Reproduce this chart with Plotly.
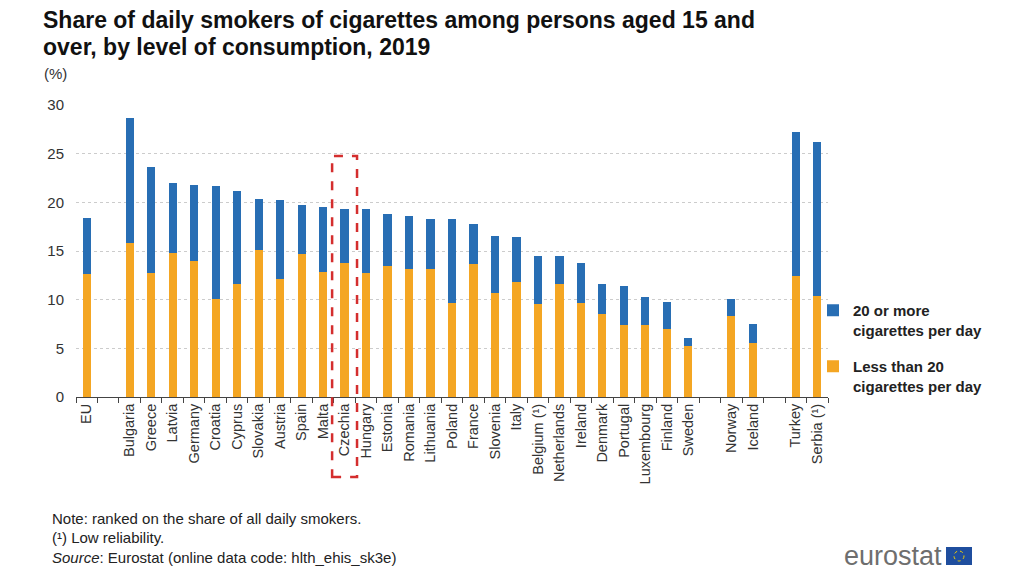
import plotly.graph_objects as go

countries = ["EU", " ", "Bulgaria", "Greece", "Latvia", "Germany", "Croatia", "Cyprus",
             "Slovakia", "Austria", "Spain", "Malta", "Czechia", "Hungary", "Estonia",
             "Romania", "Lithuania", "Poland", "France", "Slovenia", "Italy", "Belgium (¹)",
             "Netherlands", "Ireland", "Denmark", "Portugal", "Luxembourg", "Finland",
             "Sweden", "  ", "Norway", "Iceland", "   ", "Turkey", "Serbia (¹)"]

less_than_20 = [12.6, None, 15.8, 12.7, 14.8, 14.0, 10.1, 11.6, 15.1, 12.1, 14.7, 12.8,
                13.8, 12.7, 13.5, 13.2, 13.1, 9.7, 13.7, 10.7, 11.8, 9.6, 11.6, 9.7, 8.5,
                7.4, 7.4, 7.0, 5.2, None, 8.3, 5.5, None, 12.4, 10.4]

twenty_or_more = [5.8, None, 12.9, 10.9, 7.2, 7.8, 11.6, 9.6, 5.2, 8.1, 5.0, 6.7,
                  5.5, 6.6, 5.3, 5.4, 5.2, 8.6, 4.1, 5.8, 4.6, 4.9, 2.9, 4.1, 3.1,
                  4.0, 2.9, 2.8, 0.9, None, 1.8, 2.0, None, 14.8, 15.8]

highlight = "Czechia"

title_lines = ["Share of daily smokers of cigarettes among persons aged 15 and",
               "over, by level of consumption, 2019"]
footer = ["Note: ranked on the share of all daily smokers.",
          "(¹) Low reliability.",
          "<i>Source</i>: Eurostat (online data code: hlth_ehis_sk3e)"]

BLUE = "#286EB4"
ORANGE = "#F4A623"
FONT = "Liberation Sans, Arial, sans-serif"

fig = go.Figure()
fig.add_trace(go.Bar(x=countries, y=less_than_20, name="Less than 20<br>cigarettes per day",
                     marker=dict(color=ORANGE, line=dict(width=0)),
                     legendgroup="a", legendrank=2))
fig.add_trace(go.Bar(x=countries, y=twenty_or_more, name="20 or more<br>cigarettes per day",
                     marker=dict(color=BLUE, line=dict(width=0)),
                     legendgroup="b", legendrank=1))

# page is offset by 8px body margin; work in figure coordinates
W, H = 1016, 568
L, R, T, B = 68, 820, 97, 389
n = len(countries)


def px(xp):
    return (xp - L) / (R - L)


def py(yp):
    return (B - yp) / (B - T)


fig.update_layout(
    width=W, height=H,
    barmode="stack", bargap=0.62,
    paper_bgcolor="white", plot_bgcolor="white",
    margin=dict(l=L, r=W - R, t=T, b=H - B, autoexpand=False),
    font=dict(family=FONT, size=15, color="#333333"),
    showlegend=True,
    legend=dict(x=px(805), y=py(286), xanchor="left", yanchor="top",
                traceorder="grouped", tracegroupgap=14, valign="top",
                font=dict(family=FONT, size=15, color="#222222", weight="bold"),
                bgcolor="rgba(0,0,0,0)"),
    xaxis=dict(type="category", tickangle=-90, ticks="outside", tickson="boundaries",
               ticklen=5, tickcolor="#444444", showline=True, linecolor="#444444",
               linewidth=1, showgrid=False, tickfont=dict(size=14.5, color="#333333"),
               range=[-0.5, n - 0.5]),
    yaxis=dict(range=[0, 30], dtick=5, showgrid=True, gridcolor="#CCCCCC",
               griddash="dot", gridwidth=1, zeroline=False, showline=False,
               tickfont=dict(size=15, color="#333333"), ticks="", ticklabelstandoff=11),
)

for i, t in enumerate(title_lines):
    fig.add_annotation(text="<b>" + t + "</b>", xref="paper", yref="paper",
                       x=px(33), y=py(12 + 27 * i), xanchor="left", yanchor="middle",
                       showarrow=False, font=dict(family=FONT, size=23, color="#111111"))
fig.add_annotation(text="(%)", xref="paper", yref="paper",
                   x=px(34), y=py(65), xanchor="left", yanchor="middle",
                   showarrow=False, font=dict(family=FONT, size=15, color="#333333"))

for i, t in enumerate(footer):
    fig.add_annotation(text=t, xref="paper", yref="paper",
                       x=px(42), y=py(510 + 19.5 * i),
                       xanchor="left", yanchor="middle", showarrow=False,
                       font=dict(family=FONT, size=15, color="#222222"))

# highlight box around Czechia
idx = countries.index(highlight)
fig.add_shape(type="rect", xref="paper", yref="paper",
              x0=(idx + 0.5 - 0.58) / n, x1=(idx + 0.5 + 0.58) / n,
              y0=py(469), y1=py(148),
              line=dict(color="#D42E2E", width=2.5, dash="dash"))

# eurostat logo
fig.add_annotation(text="eurostat", xref="paper", yref="paper",
                   x=px(936), y=py(548), xanchor="right",
                   yanchor="middle", showarrow=False,
                   font=dict(family=FONT, size=27, color="#6E6E6E"))
fig.add_shape(type="rect", xref="paper", yref="paper",
              x0=px(938), x1=px(964), y0=py(557), y1=py(539),
              fillcolor="#1F4E9E", line=dict(width=0))
fig.add_shape(type="circle", xref="paper", yref="paper",
              x0=px(946), x1=px(956), y0=py(553), y1=py(543),
              line=dict(color="#F5D000", width=1, dash="dot"))

fig.write_html("out.html")
